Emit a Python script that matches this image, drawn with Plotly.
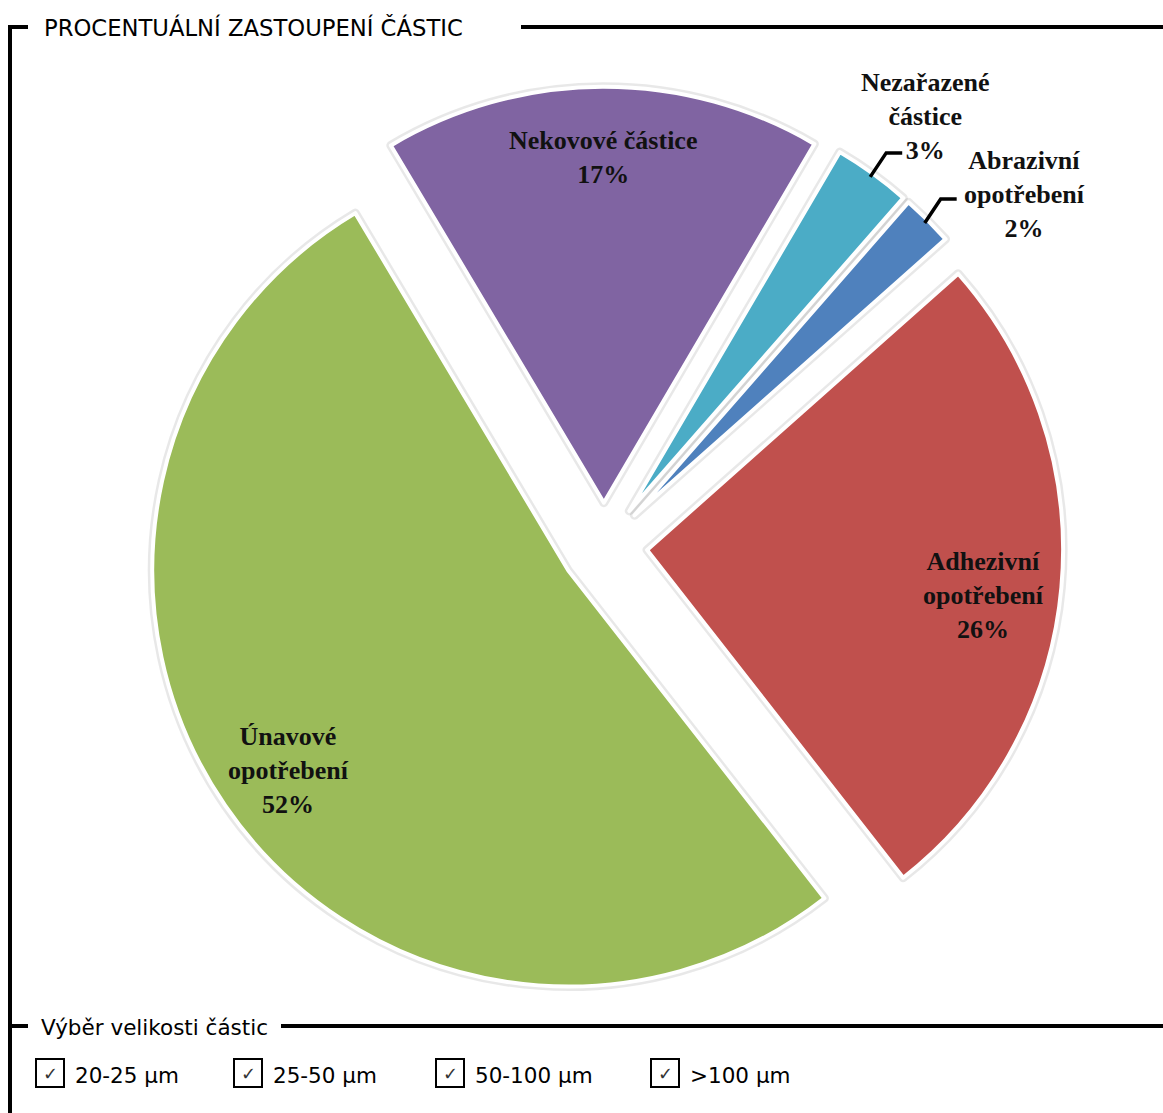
import math
import plotly.graph_objects as go

# --- data -------------------------------------------------------------------
categories = [
    "Nekovové částice",
    "Nezařazené částice",
    "Abrazivní opotřebení",
    "Adhezivní opotřebení",
    "Únavové opotřebení",
]
label_text = [
    "Nekovové částice",
    "Nezařazené<br>částice",
    "Abrazivní<br>opotřebení",
    "Adhezivní<br>opotřebení",
    "Únavové<br>opotřebení",
]
shares = [17, 3, 2, 26, 52]
size_filters = ["20-25 µm", "25-50 µm", "50-100 µm", ">100 µm"]

chart_title = "PROCENTUÁLNÍ ZASTOUPENÍ ČÁSTIC"
filter_title = "Výběr velikosti částic"

# --- styling / layout -------------------------------------------------------
slice_colors = ["#8064A2", "#4BACC6", "#4F81BD", "#C0504D", "#9BBB59"]
W, H = 1163, 1113
CX, CY = 604, 546          # pie centre (px)
R = 416                    # pie radius (px)
PULL = 0.104               # explode distance as fraction of radius
ROT = -30.8                # start angle of first slice
INSIDE_R = 0.83            # radial position of inside labels
SMALL_SHARE = 5            # slices below this get an outside label

half = R * (1 + PULL)
dom_x = [(CX - half - 60) / W, (CX + half + 60) / W]
dom_y = [1 - (CY + half) / H, 1 - (CY - half) / H]

SERIF = "Liberation Serif"
SANS = "DejaVu Sans"


def px(x, y):
    """pixel position -> paper coordinates"""
    return x / W, 1 - y / H


def polar(theta_deg, dist):
    """clockwise angle from 12 o'clock around the pie centre (px)"""
    t = math.radians(theta_deg)
    return CX + dist * math.sin(t), CY - dist * math.cos(t)


fig = go.Figure()

# soft shadow outline underneath the slices
fig.add_trace(go.Pie(
    labels=categories, values=shares, sort=False, direction="clockwise",
    rotation=ROT, pull=PULL, textinfo="none", hoverinfo="skip",
    marker=dict(colors=slice_colors, line=dict(color="rgba(0,0,0,0.09)", width=9)),
    domain=dict(x=dom_x, y=dom_y), showlegend=False,
))
fig.add_trace(go.Pie(
    labels=categories, values=shares, sort=False, direction="clockwise",
    rotation=ROT, pull=PULL, textinfo="none", hoverinfo="label+percent",
    marker=dict(colors=slice_colors, line=dict(color="white", width=4)),
    domain=dict(x=dom_x, y=dom_y), showlegend=False,
))

annotations = []
shapes = []

# slice labels
total = sum(shares)
acc = 0.0
inside_nudge = {  # small (dx, dy) px adjustments of inside labels
    "Adhezivní opotřebení": (-7, 14),
    "Únavové opotřebení": (5, 5),
}
outside_offsets = {  # (dx, dy, yanchor) of text block relative to leader end
    "Nezařazené částice": (23, 14, "bottom"),
    "Abrazivní opotřebení": (68, -5, "middle"),
}
for cat, txt, v in zip(categories, label_text, shares):
    mid = ROT + (acc + v / 2) / total * 360
    acc += v
    label = f"<b>{txt}<br>{v}%</b>"
    if v >= SMALL_SHARE:
        x, y = polar(mid, R * (PULL + INSIDE_R))
        ndx, ndy = inside_nudge.get(cat, (0, 0))
        ax, ay = px(x + ndx, y + ndy)
        annotations.append(dict(
            x=ax, y=ay, xref="paper", yref="paper", text=label, showarrow=False,
            xanchor="center", yanchor="middle",
            font=dict(family=SERIF, size=26, color="#111111"),
        ))
    else:
        x0, y0 = polar(mid, R * (PULL + 0.99))
        x1, y1 = x0 + 16, y0 - 24
        x2, y2 = x1 + 16, y1
        pts = [px(*p) for p in [(x0, y0), (x1, y1), (x2, y2)]]
        path = "M {} {} L {} {} L {} {}".format(*[c for p in pts for c in p])
        shapes.append(dict(type="path", path=path, xref="paper", yref="paper",
                           line=dict(color="black", width=3.5)))
        dx, dy, yanc = outside_offsets[cat]
        tx, ty = px(x2 + dx, y2 + dy)
        annotations.append(dict(
            x=tx, y=ty, xref="paper", yref="paper", text=label, showarrow=False,
            xanchor="center", yanchor=yanc, align="center",
            font=dict(family=SERIF, size=26, color="#111111"),
        ))


def hline(x0, x1, y, w=4):
    a, b = px(x0, y)
    c, _ = px(x1, y)
    shapes.append(dict(type="line", xref="paper", yref="paper",
                       x0=a, x1=c, y0=b, y1=b, line=dict(color="black", width=w)))


# fieldset-style frame
fx, fy = px(10, 25)
_, fb = px(10, H + 5)
shapes.append(dict(type="line", xref="paper", yref="paper", x0=fx, x1=fx,
                   y0=fy, y1=fb, line=dict(color="black", width=4)))
hline(8, 28, 27)
hline(521, W + 5, 27)
hline(8, 28, 1026)
hline(281, W + 5, 1026)

tx, ty = px(42, 28)
annotations.append(dict(x=tx, y=ty, xref="paper", yref="paper", text=chart_title,
                        showarrow=False, xanchor="left", yanchor="middle",
                        font=dict(family=SANS, size=22.7, color="black")))
tx, ty = px(39, 1027)
annotations.append(dict(x=tx, y=ty, xref="paper", yref="paper", text=filter_title,
                        showarrow=False, xanchor="left", yanchor="middle",
                        font=dict(family=SANS, size=21.5, color="black")))

# size filter checkboxes
box_left = [36, 234, 436, 651]
for left, name in zip(box_left, size_filters):
    bx0, by0 = px(left, 1059)
    bx1, by1 = px(left + 28, 1087)
    shapes.append(dict(type="rect", xref="paper", yref="paper",
                       x0=bx0, x1=bx1, y0=by1, y1=by0,
                       line=dict(color="black", width=2), fillcolor="white"))
    cx_, cy_ = px(left + 14, 1073)
    annotations.append(dict(x=cx_, y=cy_, xref="paper", yref="paper", text="✓",
                            showarrow=False, xanchor="center", yanchor="middle",
                            font=dict(family=SANS, size=18, color="#333333")))
    lx, ly = px(left + 37, 1075)
    annotations.append(dict(x=lx, y=ly, xref="paper", yref="paper", text=name,
                            showarrow=False, xanchor="left", yanchor="middle",
                            font=dict(family=SANS, size=21.5, color="black")))

fig.update_layout(
    width=W, height=H,
    margin=dict(l=0, r=0, t=0, b=0),
    paper_bgcolor="white", plot_bgcolor="white",
    showlegend=False,
    shapes=shapes,
    annotations=annotations,
)

fig.write_html("out.html")
